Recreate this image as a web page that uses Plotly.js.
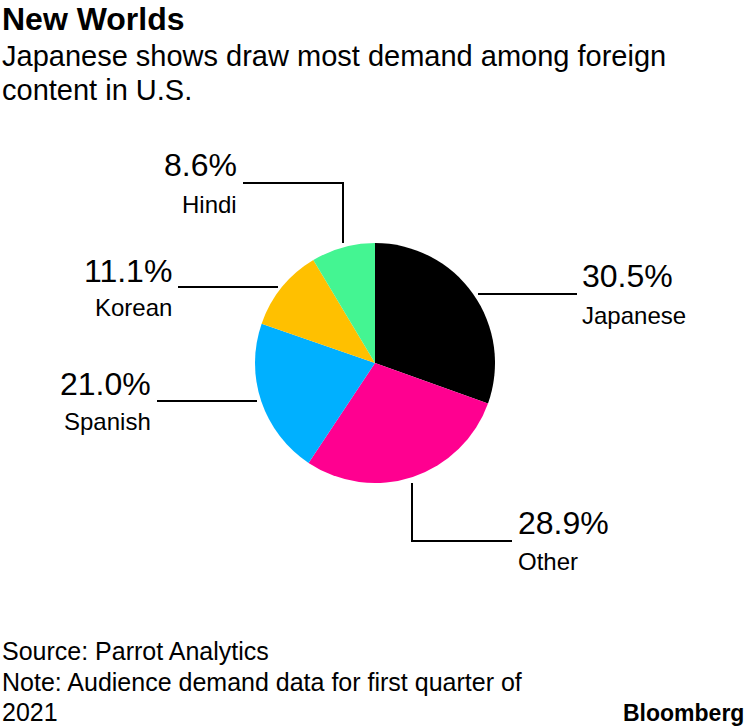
<!DOCTYPE html>
<html>
<head>
<meta charset="utf-8">
<script src="https://cdn.plot.ly/plotly-3.0.1.min.js"></script>
<style>html,body{margin:0;padding:0;background:#fff}#chart{width:750px;height:728px}</style>
</head>
<body>
<div id="chart"></div>
<script>
const categories = ["Japanese", "Other", "Spanish", "Korean", "Hindi"];
const shares = [30.5, 28.9, 21.0, 11.1, 8.6];
const sliceColors = ["#000000", "#ff0090", "#00b0ff", "#ffc000", "#44f592"];
const shareLabels = ["30.5%", "28.9%", "21.0%", "11.1%", "8.6%"];

const W = 750, H = 728;
const px = x => x / W;
const py = y => 1 - y / H;
const FONT = "Liberation Sans, Arial, sans-serif";

const labelPos = {
  "Japanese": {x: 580, yp: 276, yn: 315, anchor: "left"},
  "Other":    {x: 516, yp: 523, yn: 561, anchor: "left"},
  "Spanish":  {x: 153, yp: 384, yn: 421, anchor: "right"},
  "Korean":   {x: 174, yp: 271, yn: 307, anchor: "right"},
  "Hindi":    {x: 239, yp: 165, yn: 204, anchor: "right"}
};
const leaders = {
  "Japanese": [[478, 294], [577, 294]],
  "Other":    [[412, 483], [412, 541], [512, 541]],
  "Spanish":  [[157, 401], [257, 401]],
  "Korean":   [[178, 287], [278, 287]],
  "Hindi":    [[243, 183], [343, 183], [343, 243]]
};

const annotations = [];
const shapes = [];
categories.forEach((c, i) => {
  const p = labelPos[c];
  annotations.push({xref: "paper", yref: "paper", x: px(p.x), y: py(p.yp), xanchor: p.anchor, yanchor: "middle",
    text: shareLabels[i], showarrow: false, font: {family: FONT, size: 32, color: "#000"}});
  annotations.push({xref: "paper", yref: "paper", x: px(p.x), y: py(p.yn), xanchor: p.anchor, yanchor: "middle",
    text: c, showarrow: false, font: {family: FONT, size: 24, color: "#000"}});
  const pts = leaders[c];
  const path = pts.map((q, k) => (k ? "L" : "M") + px(q[0]) + "," + py(q[1])).join(" ");
  shapes.push({type: "path", xref: "paper", yref: "paper", path: path, line: {color: "#000", width: 2}});
});

annotations.push(
  {xref: "paper", yref: "paper", x: 0, y: py(19), xanchor: "left", yanchor: "middle", showarrow: false,
   text: "<b>New Worlds</b>", font: {family: FONT, size: 32, color: "#000"}},
  {xref: "paper", yref: "paper", x: 0, y: py(56), xanchor: "left", yanchor: "middle", showarrow: false,
   text: "Japanese shows draw most demand among foreign", font: {family: FONT, size: 29, color: "#000"}},
  {xref: "paper", yref: "paper", x: 0, y: py(90), xanchor: "left", yanchor: "middle", showarrow: false,
   text: "content in U.S.", font: {family: FONT, size: 29, color: "#000"}},
  {xref: "paper", yref: "paper", x: 0, y: py(651), xanchor: "left", yanchor: "middle", showarrow: false,
   text: "Source: Parrot Analytics", font: {family: FONT, size: 25, color: "#000"}},
  {xref: "paper", yref: "paper", x: 0, y: py(682), xanchor: "left", yanchor: "middle", showarrow: false,
   text: "Note: Audience demand data for first quarter of", font: {family: FONT, size: 25, color: "#000"}},
  {xref: "paper", yref: "paper", x: 0, y: py(712), xanchor: "left", yanchor: "middle", showarrow: false,
   text: "2021", font: {family: FONT, size: 25, color: "#000"}},
  {xref: "paper", yref: "paper", x: px(746), y: py(713), xanchor: "right", yanchor: "middle", showarrow: false,
   text: "<b>Bloomberg</b>", font: {family: FONT, size: 23, color: "#000"}}
);

const data = [{
  type: "pie",
  labels: categories,
  values: shares,
  sort: false,
  direction: "clockwise",
  rotation: 0,
  textinfo: "none",
  hoverinfo: "skip",
  marker: {colors: sliceColors, line: {width: 0}},
  domain: {x: [px(255), px(495)], y: [py(483), py(243)]},
  showlegend: false
}];

const layout = {
  width: W, height: H,
  margin: {l: 0, r: 0, t: 0, b: 0},
  paper_bgcolor: "#fff",
  showlegend: false,
  annotations: annotations,
  shapes: shapes
};

Plotly.newPlot("chart", data, layout, {displayModeBar: false, staticPlot: true});
</script>
</body>
</html>
